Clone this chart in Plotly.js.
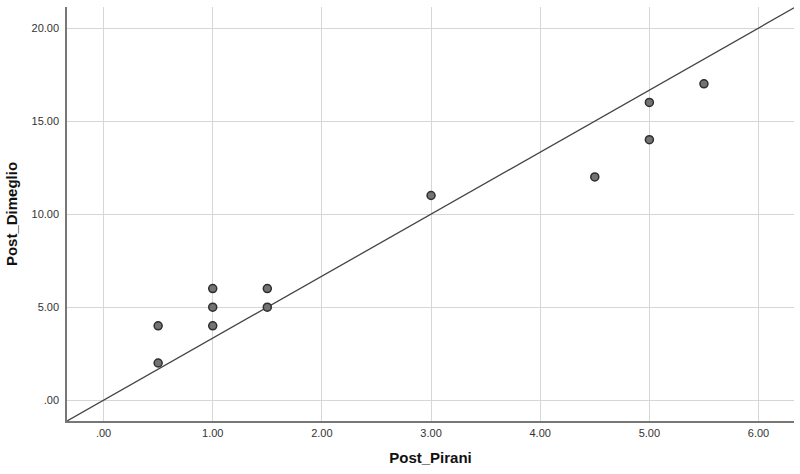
<!DOCTYPE html>
<html>
<head>
<meta charset="utf-8">
<script src="https://cdn.plot.ly/plotly-3.0.1.min.js"></script>
<style>
  html, body { margin: 0; padding: 0; background: white; }
  #chart { width: 800px; height: 474px; }
</style>
</head>
<body>
<div id="chart"></div>
<script>
// observed cases
const postPirani   = [0.5, 0.5, 1.0, 1.0, 1.0, 1.5, 1.5, 3.0, 4.5, 5.0, 5.0, 5.5];
const postDimeglio = [4,   2,   6,   5,   4,   6,   5,   11,  12,  16,  14,  17];

// reference line end points (at the plot edges)
const refX = [-0.335, 6.325];
const refY = [-1.117, 21.083];

const xTickVals = [0, 1, 2, 3, 4, 5, 6];
const xTickText = ['.00', '1.00', '2.00', '3.00', '4.00', '5.00', '6.00'];
const yTickVals = [0, 5, 10, 15, 20];
const yTickText = ['.00', '5.00', '10.00', '15.00', '20.00'];

const lineTrace = {
    type: 'scatter',
    mode: 'lines',
    x: refX,
    y: refY,
    line: { color: '#444444', width: 1.3 },
    hoverinfo: 'skip',
    showlegend: false
};

const pointTrace = {
    type: 'scatter',
    mode: 'markers',
    x: postPirani,
    y: postDimeglio,
    marker: {
        size: 8,
        color: '#737373',
        line: { color: '#2e2e2e', width: 1.5 }
    },
    showlegend: false
};

const layout = {
    width: 800,
    height: 474,
    margin: { l: 67, r: 6, t: 7, b: 53 },
    paper_bgcolor: 'white',
    plot_bgcolor: 'white',
    font: { family: 'Liberation Sans, Arial, sans-serif', color: '#333333' },
    xaxis: {
        range: [-0.335, 6.325],
        tickvals: xTickVals,
        ticktext: xTickText,
        tickfont: { size: 11, color: '#333333' },
        showgrid: true,
        gridcolor: '#d6d6d6',
        gridwidth: 1.3,
        zeroline: false,
        showline: true,
        linecolor: '#777777',
        linewidth: 1.5,
        ticks: '',
        ticklabelstandoff: 1,
        title: {
            text: 'Post_Pirani',
            font: { size: 15, color: '#111111', family: 'Liberation Sans, Arial, sans-serif', weight: 'bold' },
            standoff: 15
        }
    },
    yaxis: {
        range: [-1.117, 21.13],
        tickvals: yTickVals,
        ticktext: yTickText,
        tickfont: { size: 11, color: '#333333' },
        showgrid: true,
        gridcolor: '#d6d6d6',
        gridwidth: 1.3,
        zeroline: false,
        showline: true,
        linecolor: '#777777',
        linewidth: 1.5,
        ticks: '',
        ticklabelstandoff: 4,
        title: {
            text: 'Post_Dimeglio',
            font: { size: 15, color: '#111111', family: 'Liberation Sans, Arial, sans-serif', weight: 'bold' },
            standoff: 10
        }
    }
};

const config = {
    responsive: false,
    displayModeBar: false
};

Plotly.newPlot('chart', [lineTrace, pointTrace], layout, config);
</script>
</body>
</html>
